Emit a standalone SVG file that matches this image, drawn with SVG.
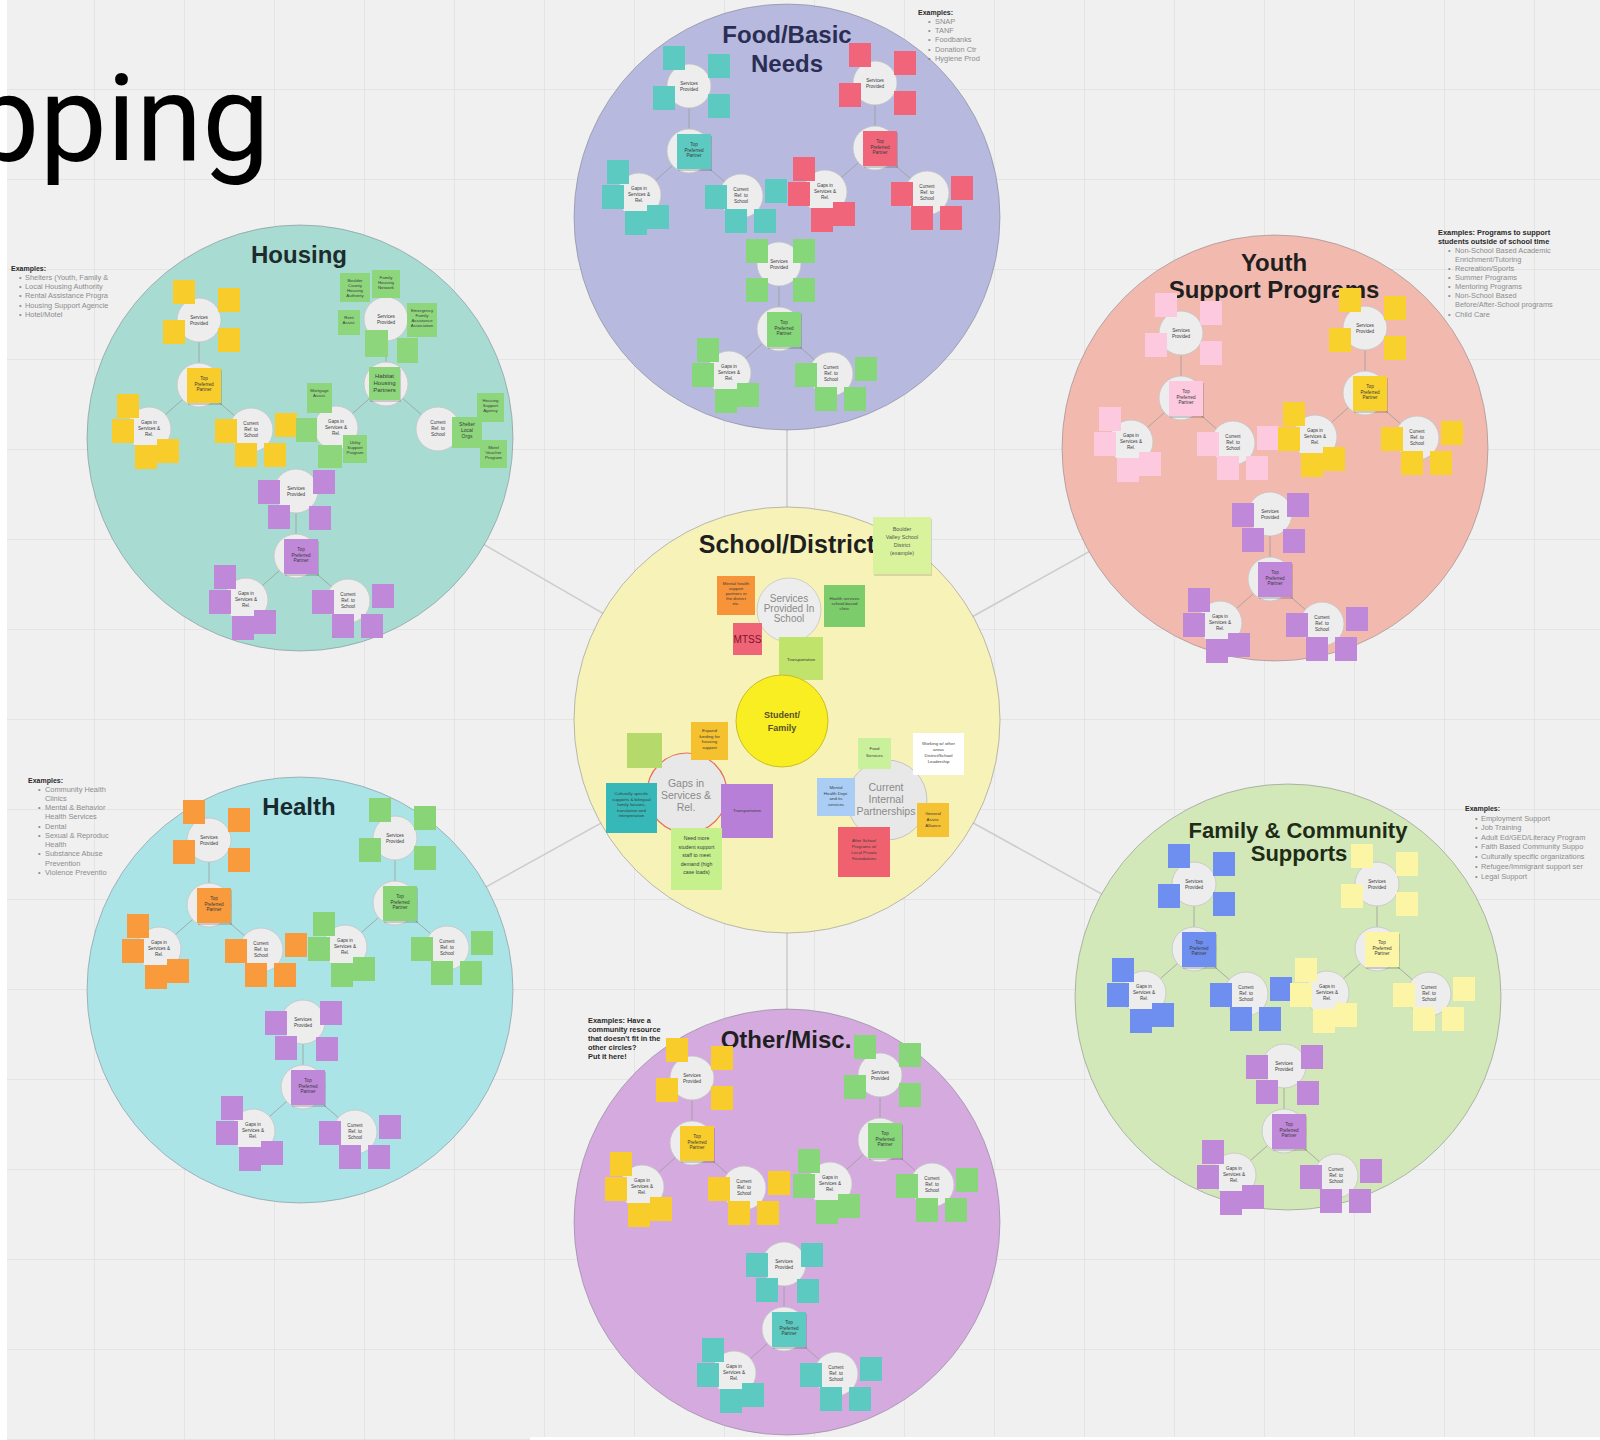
<svg xmlns="http://www.w3.org/2000/svg" xmlns:xlink="http://www.w3.org/1999/xlink" width="1600" height="1440" viewBox="0 0 1600 1440">
<style>
  .ring{stroke:#6f6f7a;stroke-opacity:.45;stroke-width:1}
  .title{font-family:"Liberation Sans",Arial,sans-serif;font-weight:bold;font-size:24px;text-anchor:middle}
  .dot{fill:#ededed;stroke:#c4c4c4;stroke-width:.8}
  .spoke{stroke:#9c9c9c;stroke-width:.8}
  .tiny{font-family:"Liberation Sans",Arial,sans-serif;font-size:4.6px;fill:#3a3a3a;text-anchor:middle}
  .note{font-family:"Liberation Sans",Arial,sans-serif;font-size:4.4px;fill:#3c3c3c;text-anchor:middle}
  .ex{font-family:"Liberation Sans",Arial,sans-serif;font-size:7.4px;fill:#8c8c8c}
  .exh{font-family:"Liberation Sans",Arial,sans-serif;font-size:7.4px;fill:#2a2a2a;font-weight:bold}
  .link{stroke:#cdcdcd;stroke-width:1.6}
  .label{font-family:"Liberation Sans",Arial,sans-serif;font-size:10.5px;fill:#8a8a8a;text-anchor:middle}
</style>
<defs>
  <pattern id="grid" x="4" y="89" width="90" height="90" patternUnits="userSpaceOnUse">
    <path d="M0 0H90M0 0V90" stroke="#e1e1e1" stroke-width="1.5" fill="none"/>
  </pattern>
  <!-- four-circle cluster: top, middle (origin), lower-left, lower-right -->
  <g id="frame">
    <line class="spoke" x1="0" y1="0" x2="0" y2="-65"/>
    <line class="spoke" x1="0" y1="0" x2="-50" y2="44"/>
    <line class="spoke" x1="0" y1="0" x2="52" y2="45"/>
    <circle class="dot" cx="0" cy="-65" r="22"/>
    <circle class="dot" cx="0" cy="0" r="22"/>
    <circle class="dot" cx="-50" cy="44" r="22"/>
    <circle class="dot" cx="52" cy="45" r="22"/>
    <text class="tiny" x="0" y="-66">Services<tspan x="0" dy="6">Provided</tspan></text>
    <text class="tiny" x="-50" y="39">Gaps in<tspan x="-50" dy="6">Services &amp;</tspan><tspan x="-50" dy="6">Rel.</tspan></text>
    <text class="tiny" x="52" y="40">Current<tspan x="52" dy="6">Ref. to</tspan><tspan x="52" dy="6">School</tspan></text>
  </g>
  <g id="mid">
    <rect x="-11" y="-15" width="34" height="35" fill="#000" opacity=".15"/>
    <rect x="-12" y="-17" width="34" height="35"/>
    <text class="tiny" x="5" y="-5">Top<tspan x="5" dy="5.5">Preferred</tspan><tspan x="5" dy="5.5">Partner</tspan></text>
  </g>
  <g id="low">
    <rect x="-82" y="9" width="22" height="24"/>
    <rect x="-87" y="34" width="22" height="24"/>
    <rect x="-64" y="60" width="22" height="24"/>
    <rect x="-42" y="54" width="22" height="24"/>
    <rect x="16" y="34" width="22" height="24"/>
    <rect x="76" y="28" width="22" height="24"/>
    <rect x="36" y="58" width="22" height="24"/>
    <rect x="65" y="58" width="22" height="24"/>
  </g>
  <g id="top-a">
    <rect x="-26" y="-105" width="22" height="24"/>
    <rect x="19" y="-97" width="22" height="24"/>
    <rect x="-36" y="-65" width="22" height="24"/>
    <rect x="19" y="-57" width="22" height="24"/>
  </g>
  <g id="top-b">
    <rect x="17" y="-86" width="22" height="24"/>
    <rect x="-38" y="-76" width="22" height="24"/>
    <rect x="-28" y="-51" width="22" height="24"/>
    <rect x="13" y="-50" width="22" height="24"/>
  </g>
  <g id="top-c">
    <rect x="-33" y="-90" width="22" height="24"/>
    <rect x="14" y="-90" width="22" height="24"/>
    <rect x="-33" y="-51" width="22" height="24"/>
    <rect x="14" y="-51" width="22" height="24"/>
  </g>
</defs>

<!-- canvas -->
<rect width="1600" height="1440" fill="#f0f0f0"/>
<rect width="1600" height="1440" fill="url(#grid)"/>
<rect x="0" y="0" width="7" height="1440" fill="#ffffff"/>
<rect x="530" y="1437" width="1070" height="3" fill="#ffffff"/>

<text x="-28" y="160" font-family="Roboto, 'Noto Sans', sans-serif" font-size="120" fill="#000">pping</text>

<!-- spokes from the school hub to each resource area -->
<g id="connectors">
  <line class="link" x1="787" y1="720" x2="787" y2="217"/>
  <line class="link" x1="787" y1="720" x2="300" y2="438"/>
  <line class="link" x1="787" y1="720" x2="1275" y2="448"/>
  <line class="link" x1="787" y1="720" x2="300" y2="990"/>
  <line class="link" x1="787" y1="720" x2="1288" y2="997"/>
  <line class="link" x1="787" y1="720" x2="787" y2="1222"/>
</g>

<!-- Food / Basic Needs -->
<g id="node-food">
  <circle class="ring" cx="787" cy="217" r="213" fill="#b7b9de"/>
  <text class="title" x="787" y="43" fill="#2a2e55">Food/Basic</text>
  <text class="title" x="787" y="72" fill="#2a2e55">Needs</text>
  <g id="food-teal" fill="#5ccac0" transform="translate(689,151)">
    <use href="#frame"/><use href="#top-a"/><use href="#low"/><use href="#mid"/>
  </g>
  <g id="food-red" fill="#f0657a" transform="translate(875,148)">
    <use href="#frame"/><use href="#top-a"/><use href="#low"/><use href="#mid"/>
  </g>
  <g id="food-green" fill="#86d77a" transform="translate(779,329)">
    <use href="#frame"/><use href="#top-c"/><use href="#low"/><use href="#mid"/>
  </g>
  <text class="exh" x="918" y="15" style="font-size:7px">Examples:</text>
  <text class="ex" x="928" y="24">•<tspan x="935">SNAP</tspan></text>
  <text class="ex" x="928" y="33">•<tspan x="935">TANF</tspan></text>
  <text class="ex" x="928" y="42">•<tspan x="935">Foodbanks</tspan></text>
  <text class="ex" x="928" y="52">•<tspan x="935">Donation Ctr</tspan></text>
  <text class="ex" x="928" y="61">•<tspan x="935">Hygiene Prod</tspan></text>
</g>

<!-- Housing -->
<g id="node-housing">
  <circle class="ring" cx="300" cy="438" r="213" fill="#a8dcd2"/>
  <text class="title" x="299" y="263" fill="#1d2c2c">Housing</text>
  <g id="housing-yellow" fill="#f8cc2b" transform="translate(199,385)">
    <use href="#frame"/><use href="#top-a"/><use href="#low"/><use href="#mid"/>
  </g>
  <g id="housing-green" fill="#8ed67c" transform="translate(386,384)">
    <use href="#frame"/>
    <rect x="-46" y="-111" width="30" height="29"/>
    <text class="note" x="-31" y="-102">Boulder<tspan x="-31" dy="5">County</tspan><tspan x="-31" dy="5">Housing</tspan><tspan x="-31" dy="5">Authority</tspan></text>
    <rect x="-14" y="-114" width="28" height="28"/>
    <text class="note" x="0" y="-105">Family<tspan x="0" dy="5">Housing</tspan><tspan x="0" dy="5">Network</tspan></text>
    <rect x="-48" y="-74" width="22" height="25"/>
    <text class="note" x="-37" y="-65">Rent<tspan x="-37" dy="5">Assist.</tspan></text>
    <rect x="21" y="-81" width="30" height="34"/>
    <text class="note" x="36" y="-72">Emergency<tspan x="36" dy="5">Family</tspan><tspan x="36" dy="5">Assistance</tspan><tspan x="36" dy="5">Association</tspan></text>
    <rect x="-21" y="-54" width="23" height="27"/>
    <rect x="11" y="-46" width="21" height="25"/>
    <rect x="-16" y="-15" width="31" height="33" fill="#000" opacity=".15"/>
    <rect x="-17" y="-17" width="31" height="33"/>
    <text class="note" x="-1.5" y="-6" style="font-size:6px">Habitat<tspan x="-1.5" dy="7">Housing</tspan><tspan x="-1.5" dy="7">Partners</tspan></text>
    <rect x="-79" y="-1" width="25" height="30"/>
    <text class="note" x="-66.5" y="8">Mortgage<tspan x="-66.5" dy="5">Assist.</tspan></text>
    <rect x="-90" y="34" width="21" height="24"/>
    <rect x="-43" y="51" width="24" height="28"/>
    <text class="note" x="-31" y="60">Utility<tspan x="-31" dy="5">Support</tspan><tspan x="-31" dy="5">Program</tspan></text>
    <rect x="-68" y="61" width="24" height="23"/>
    <rect x="66" y="33" width="30" height="31"/>
    <text class="note" x="81" y="42" style="font-size:5px">Shelter<tspan x="81" dy="6">Local</tspan><tspan x="81" dy="6">Orgs</tspan></text>
    <rect x="91" y="9" width="27" height="29"/>
    <text class="note" x="104.5" y="18">Housing<tspan x="104.5" dy="5">Support</tspan><tspan x="104.5" dy="5">Agency</tspan></text>
    <rect x="94" y="56" width="27" height="28"/>
    <text class="note" x="107.5" y="65">Motel<tspan x="107.5" dy="5">Voucher</tspan><tspan x="107.5" dy="5">Program</tspan></text>
  </g>
  <g id="housing-purple" fill="#c088d8" transform="translate(296,556)">
    <use href="#frame"/><use href="#top-b"/><use href="#low"/><use href="#mid"/>
  </g>
  <text class="exh" x="11" y="271" style="font-size:7px">Examples:</text>
  <text class="ex" x="19" y="280">•<tspan x="25">Shelters (Youth, Family &amp;</tspan></text>
  <text class="ex" x="19" y="289">•<tspan x="25">Local Housing Authority</tspan></text>
  <text class="ex" x="19" y="298">•<tspan x="25">Rental Assistance Progra</tspan></text>
  <text class="ex" x="19" y="308">•<tspan x="25">Housing Support Agencie</tspan></text>
  <text class="ex" x="19" y="317">•<tspan x="25">Hotel/Motel</tspan></text>
</g>

<!-- Youth Support Programs -->
<g id="node-youth">
  <circle class="ring" cx="1275" cy="448" r="213" fill="#f2baae"/>
  <text class="title" x="1274" y="271" fill="#1f1f1f">Youth</text>
  <text class="title" x="1274" y="298" fill="#1f1f1f">Support Programs</text>
  <g id="youth-pink" fill="#fcc9de" transform="translate(1181,398)">
    <use href="#frame"/><use href="#top-a"/><use href="#low"/><use href="#mid"/>
  </g>
  <g id="youth-yellow" fill="#f8d12d" transform="translate(1365,393)">
    <use href="#frame"/><use href="#top-a"/><use href="#low"/><use href="#mid"/>
  </g>
  <g id="youth-purple" fill="#c088d8" transform="translate(1270,579)">
    <use href="#frame"/><use href="#top-b"/><use href="#low"/><use href="#mid"/>
  </g>
  <text class="exh" x="1438" y="235">Examples: Programs to support</text>
  <text class="exh" x="1438" y="244">students outside of school time</text>
  <text class="ex" x="1448" y="253">•<tspan x="1455">Non-School Based Academic</tspan></text>
  <text class="ex" x="1455" y="262">Enrichment/Tutoring</text>
  <text class="ex" x="1448" y="271">•<tspan x="1455">Recreation/Sports</tspan></text>
  <text class="ex" x="1448" y="280">•<tspan x="1455">Summer Programs</tspan></text>
  <text class="ex" x="1448" y="289">•<tspan x="1455">Mentoring Programs</tspan></text>
  <text class="ex" x="1448" y="298">•<tspan x="1455">Non-School Based</tspan></text>
  <text class="ex" x="1455" y="307">Before/After-School programs</text>
  <text class="ex" x="1448" y="317">•<tspan x="1455">Child Care</tspan></text>
</g>

<!-- Health -->
<g id="node-health">
  <circle class="ring" cx="300" cy="990" r="213" fill="#abe4e7"/>
  <text class="title" x="299" y="815" fill="#182a2d">Health</text>
  <g id="health-orange" fill="#f99b3d" transform="translate(209,905)">
    <use href="#frame"/><use href="#top-a"/><use href="#low"/><use href="#mid"/>
  </g>
  <g id="health-green" fill="#88d477" transform="translate(395,903)">
    <use href="#frame"/><use href="#top-a"/><use href="#low"/><use href="#mid"/>
  </g>
  <g id="health-purple" fill="#c088d8" transform="translate(303,1087)">
    <use href="#frame"/><use href="#top-b"/><use href="#low"/><use href="#mid"/>
  </g>
  <text class="exh" x="28" y="783" style="font-size:7px">Examples:</text>
  <text class="ex" x="38" y="792">•<tspan x="45">Community Health</tspan></text>
  <text class="ex" x="45" y="801">Clinics</text>
  <text class="ex" x="38" y="810">•<tspan x="45">Mental &amp; Behavior</tspan></text>
  <text class="ex" x="45" y="819">Health Services</text>
  <text class="ex" x="38" y="829">•<tspan x="45">Dental</tspan></text>
  <text class="ex" x="38" y="838">•<tspan x="45">Sexual &amp; Reproduc</tspan></text>
  <text class="ex" x="45" y="847">Health</text>
  <text class="ex" x="38" y="856">•<tspan x="45">Substance Abuse</tspan></text>
  <text class="ex" x="45" y="866">Prevention</text>
  <text class="ex" x="38" y="875">•<tspan x="45">Violence Preventio</tspan></text>
</g>

<!-- Family & Community Supports -->
<g id="node-family">
  <circle class="ring" cx="1288" cy="997" r="213" fill="#d3e8b8"/>
  <text class="title" x="1298" y="838" fill="#1e2b17" style="font-size:22px">Family &amp; Community</text>
  <text class="title" x="1299" y="861" fill="#1e2b17" style="font-size:22px">Supports</text>
  <g id="family-blue" fill="#6f8ff0" transform="translate(1194,949)">
    <use href="#frame"/><use href="#top-a"/><use href="#low"/><use href="#mid"/>
  </g>
  <g id="family-yellow" fill="#fcf5a5" transform="translate(1377,949)">
    <use href="#frame"/><use href="#top-a"/><use href="#low"/><use href="#mid"/>
  </g>
  <g id="family-purple" fill="#c088d8" transform="translate(1284,1131)">
    <use href="#frame"/><use href="#top-b"/><use href="#low"/><use href="#mid"/>
  </g>
  <text class="exh" x="1465" y="811" style="font-size:7px">Examples:</text>
  <text class="ex" x="1475" y="821">•<tspan x="1481">Employment Support</tspan></text>
  <text class="ex" x="1475" y="830">•<tspan x="1481">Job Training</tspan></text>
  <text class="ex" x="1475" y="840">•<tspan x="1481">Adult Ed/GED/Literacy Program</tspan></text>
  <text class="ex" x="1475" y="849">•<tspan x="1481">Faith Based Community Suppo</tspan></text>
  <text class="ex" x="1475" y="859">•<tspan x="1481">Culturally specific organizations</tspan></text>
  <text class="ex" x="1475" y="869">•<tspan x="1481">Refugee/Immigrant support ser</tspan></text>
  <text class="ex" x="1475" y="879">•<tspan x="1481">Legal Support</tspan></text>
</g>

<!-- Other / Misc. -->
<g id="node-other">
  <circle class="ring" cx="787" cy="1222" r="213" fill="#d5aadf"/>
  <text class="title" x="786" y="1048" fill="#1f1f1f">Other/Misc.</text>
  <g id="other-yellow" fill="#f8cd2b" transform="translate(692,1143)">
    <use href="#frame"/><use href="#top-a"/><use href="#low"/><use href="#mid"/>
  </g>
  <g id="other-green" fill="#87d67a" transform="translate(880,1140)">
    <use href="#frame"/><use href="#top-a"/><use href="#low"/><use href="#mid"/>
  </g>
  <g id="other-teal" fill="#5ccac0" transform="translate(784,1329)">
    <use href="#frame"/><use href="#top-b"/><use href="#low"/><use href="#mid"/>
  </g>
  <text class="exh" x="588" y="1023">Examples: Have a</text>
  <text class="exh" x="588" y="1032">community resource</text>
  <text class="exh" x="588" y="1041">that doesn't fit in the</text>
  <text class="exh" x="588" y="1050">other circles?</text>
  <text class="exh" x="588" y="1059">Put it here!</text>
</g>

<!-- School / District hub -->
<g id="node-school">
  <circle class="ring" cx="787" cy="720" r="213" fill="#f7f3b8"/>
  <text class="title" x="787" y="553" fill="#1f1f1f" style="font-size:25px">School/District</text>
  <g id="school-services">
    <circle class="dot" cx="789" cy="610" r="32"/>
    <text class="label" x="789" y="602" style="font-size:10px">Services<tspan x="789" dy="10">Provided In</tspan><tspan x="789" dy="10">School</tspan></text>
    <rect x="717" y="576" width="38" height="39" fill="#f7943a"/>
    <text class="note" x="736" y="585">Mental health<tspan x="736" dy="5">support</tspan><tspan x="736" dy="5">partners in</tspan><tspan x="736" dy="5">the district</tspan><tspan x="736" dy="5">etc.</tspan></text>
    <rect x="824" y="585" width="41" height="42" fill="#7ccc6c"/>
    <text class="note" x="844.5" y="600">Health services<tspan x="844.5" dy="5">school-based</tspan><tspan x="844.5" dy="5">clinic</tspan></text>
    <rect x="733" y="623" width="29" height="32" fill="#f06478"/>
    <text x="747.5" y="643" font-family="Liberation Sans, Arial, sans-serif" font-size="10" fill="#7a1628" text-anchor="middle">MTSS</text>
    <rect x="779" y="637" width="44" height="43" fill="#bfe36b"/>
    <text class="note" x="801" y="661">Transportation</text>
  </g>
  <g id="school-student">
    <circle cx="782" cy="721" r="46" fill="#f9ee22" stroke="#c9bd2a" stroke-width="1"/>
    <text x="782" y="718" font-family="Liberation Sans, Arial, sans-serif" font-size="9" font-weight="bold" fill="#55502a" text-anchor="middle">Student/<tspan x="782" dy="13">Family</tspan></text>
  </g>
  <g id="school-gaps">
    <circle cx="687" cy="793" r="40" fill="#e8e8e8" stroke="#e8705a" stroke-width="1.2"/>
    <text class="label" x="686" y="787">Gaps in<tspan x="686" dy="12">Services &amp;</tspan><tspan x="686" dy="12">Rel.</tspan></text>
    <rect x="627" y="733" width="35" height="35" fill="#b5d96a"/>
    <rect x="691" y="722" width="37" height="38" fill="#f5c12e"/>
    <text class="note" x="709.5" y="732">Expand<tspan x="709.5" dy="5.5">funding for</tspan><tspan x="709.5" dy="5.5">housing</tspan><tspan x="709.5" dy="5.5">support</tspan></text>
    <rect x="606" y="783" width="51" height="50" fill="#36b8b8"/>
    <text class="note" x="631.5" y="795">Culturally specific<tspan x="631.5" dy="5.5">supports &amp; bilingual</tspan><tspan x="631.5" dy="5.5">family liaisons,</tspan><tspan x="631.5" dy="5.5">translation and</tspan><tspan x="631.5" dy="5.5">interpretation</tspan></text>
    <rect x="721" y="784" width="52" height="54" fill="#b87fd8"/>
    <text class="note" x="747" y="812">Transportation</text>
    <rect x="671" y="828" width="51" height="62" fill="#c6f08c"/>
    <text class="note" x="696.5" y="840" style="font-size:5.2px">Need more<tspan x="696.5" dy="8.5">student support</tspan><tspan x="696.5" dy="8.5">staff to meet</tspan><tspan x="696.5" dy="8.5">demand (high</tspan><tspan x="696.5" dy="8.5">case loads)</tspan></text>
  </g>
  <g id="school-partners">
    <circle cx="887" cy="800" r="40" fill="#e8e8e8" stroke="#c4c4c4" stroke-width="1"/>
    <text class="label" x="886" y="791">Current<tspan x="886" dy="12">Internal</tspan><tspan x="886" dy="12">Partnerships</tspan></text>
    <rect x="858" y="738" width="33" height="31" fill="#c9f19b"/>
    <text class="note" x="874.5" y="750">Food<tspan x="874.5" dy="7">Services</tspan></text>
    <rect x="913" y="733" width="51" height="42" fill="#ffffff"/>
    <text class="note" x="938.5" y="745">Working w/ other<tspan x="938.5" dy="6">areas</tspan><tspan x="938.5" dy="6">District/School</tspan><tspan x="938.5" dy="6">Leadership</tspan></text>
    <rect x="817" y="778" width="38" height="38" fill="#a9cdf5"/>
    <text class="note" x="836" y="789">Mental<tspan x="836" dy="5.5">Health Dept.</tspan><tspan x="836" dy="5.5">and its</tspan><tspan x="836" dy="5.5">services</tspan></text>
    <rect x="917" y="803" width="32" height="34" fill="#f4c232"/>
    <text class="note" x="933" y="815">General<tspan x="933" dy="6">Assist.</tspan><tspan x="933" dy="6">Alliance</tspan></text>
    <rect x="838" y="827" width="52" height="50" fill="#f0616f"/>
    <text class="note" x="864" y="842">After School<tspan x="864" dy="6">Programs w/</tspan><tspan x="864" dy="6">Local Private</tspan><tspan x="864" dy="6">Foundations</tspan></text>
  </g>
  <g id="school-example">
    <rect x="874" y="519" width="58" height="57" fill="#000" opacity=".12"/>
    <rect x="873" y="517" width="58" height="57" fill="#d9f39c"/>
    <text class="note" x="902" y="531" style="font-size:5.4px;fill:#555">Boulder<tspan x="902" dy="8">Valley School</tspan><tspan x="902" dy="8">District</tspan><tspan x="902" dy="8">(example)</tspan></text>
  </g>
</g>
</svg>
